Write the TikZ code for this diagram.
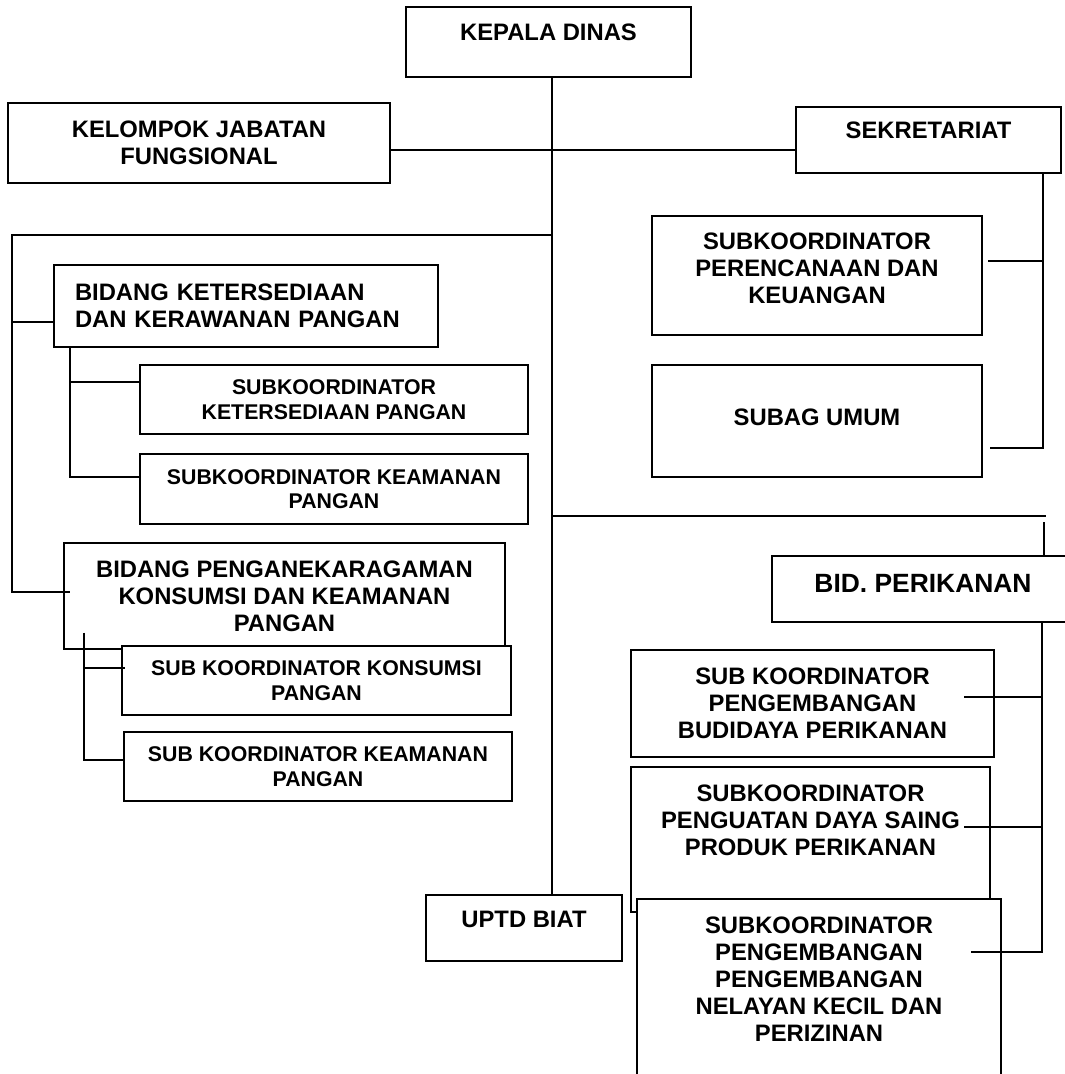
\documentclass[tikz,border=0pt]{standalone}
\usepackage{fontspec}
\setmainfont{Liberation Sans}

\begin{document}
\begin{tikzpicture}[x=1pt, y=-1pt,
    orgbox/.style={draw, line width=1.6pt, fill=white, inner sep=0pt, align=center,
      font=\fontsize{23.8}{27}\selectfont\bfseries},
    subbox/.style={orgbox, font=\fontsize{21.3}{24.5}\selectfont\bfseries},
    link/.style={line width=1.6pt}]
  \fill [white] (0,0) rectangle (1065,1074);
  \useasboundingbox (0,0) rectangle (1065,1074);

  \node (kepala) [orgbox, minimum width=285pt, minimum height=70pt, text depth=20pt] at (548.5,42) {KEPALA DINAS};
  \node (kelompok) [orgbox, minimum width=382pt, minimum height=80pt] at (199,143) {KELOMPOK JABATAN\\FUNGSIONAL};
  \node (sekretariat) [orgbox, minimum width=265pt, minimum height=66pt, text depth=20pt] at (928.5,140) {SEKRETARIAT};
  \node (perencanaan) [orgbox, minimum width=330pt, minimum height=119pt, text depth=15pt] at (817,275.5) {SUBKOORDINATOR\\PERENCANAAN DAN\\KEUANGAN};
  \node (subag) [orgbox, minimum width=330pt, minimum height=112pt, text depth=8pt] at (817,421) {SUBAG UMUM};

  \node (bidket) [orgbox, align=left, text width=342pt, inner xsep=21pt, minimum height=82pt] at (246,306) {BIDANG KETERSEDIAAN\\DAN KERAWANAN PANGAN};
  \node (subket) [subbox, minimum width=388pt, minimum height=69pt] at (334,399.5) {SUBKOORDINATOR\\KETERSEDIAAN PANGAN};
  \node (subkeam) [subbox, minimum width=388pt, minimum height=70pt] at (334,489) {SUBKOORDINATOR KEAMANAN\\PANGAN};

  \node (bidpeng) [orgbox, minimum width=441pt, minimum height=106pt] at (284.5,596) {BIDANG PENGANEKARAGAMAN\\KONSUMSI DAN KEAMANAN\\PANGAN};
  \node (subkon) [subbox, minimum width=389pt, minimum height=69pt] at (316.5,680.5) {SUB KOORDINATOR KONSUMSI\\PANGAN};
  \node (subkam) [subbox, minimum width=388pt, minimum height=69pt] at (318,766.5) {SUB KOORDINATOR KEAMANAN\\PANGAN};

  \node (bidikan) [orgbox, font=\fontsize{26.4}{30}\selectfont\bfseries, minimum width=302pt, minimum height=66pt, text depth=12pt] at (923,589) {BID. PERIKANAN};
  \node (budidaya) [orgbox, minimum width=363pt, minimum height=107pt] at (812.5,703.5) {SUB KOORDINATOR\\PENGEMBANGAN\\BUDIDAYA PERIKANAN};
  \node (penguatan) [orgbox, minimum width=359pt, minimum height=145pt, text depth=39pt] at (810.5,839.5) {SUBKOORDINATOR\\PENGUATAN DAYA SAING\\PRODUK PERIKANAN};
  \node (nelayan) [orgbox, minimum width=364pt, minimum height=201pt, text depth=41pt] at (819,999.5) {SUBKOORDINATOR\\PENGEMBANGAN\\PENGEMBANGAN\\NELAYAN KECIL DAN\\PERIZINAN};

  \node (uptd) [orgbox, minimum width=196pt, minimum height=66pt, text depth=18pt] at (524,928) {UPTD BIAT};

  \coordinate (spine) at ([xshift=3.5pt]kepala.south);
  \coordinate (busjf) at (552,150);
  \coordinate (busL) at (12,235);
  \coordinate (busR) at (1046,516);
  \coordinate (ketin) at ([yshift=-16pt]bidket.west);
  \coordinate (ketbus) at ([xshift=17pt]bidket.south west);
  \coordinate (pengbus) at ([xshift=21pt, yshift=17pt]bidpeng.south west);
  \coordinate (sekbus) at ([xshift=-19pt]sekretariat.south east);
  \coordinate (ikanin) at (1044,522);
  \coordinate (ikanbus) at ([xshift=-33pt]bidikan.south east);

  \draw [link] (spine) -- (spine |- uptd.north);
  \draw [link] (kelompok.east |- busjf) -- (sekretariat.west |- busjf);

  \draw [link] (spine |- busL) -- (busL) |- ([xshift=7pt, yshift=4pt]bidpeng.west);
  \draw [link] (busL |- ketin) -- (ketin);
  \draw [link] (ketbus) |- ([yshift=17.5pt]subket.west);
  \draw [link] (ketbus) |- ([yshift=12pt]subkeam.west);
  \draw [link] (pengbus) |- ([xshift=4pt, yshift=12.5pt]subkon.west);
  \draw [link] (pengbus) |- ([xshift=2pt, yshift=6.5pt]subkam.west);

  \draw [link] (sekbus) |- ([xshift=5pt, yshift=14.5pt]perencanaan.east);
  \draw [link] (sekbus) |- ([xshift=7pt, yshift=-27pt]subag.east);

  \draw [link] (spine |- busR) -- (busR);
  \draw [link] (ikanin) -- (ikanin |- bidikan.north);
  \draw [link] (ikanbus) |- ([xshift=-30.5pt, yshift=6.5pt]budidaya.east);
  \draw [link] (ikanbus) |- ([xshift=-27pt, yshift=12.5pt]penguatan.east);
  \draw [link] (ikanbus) |- ([xshift=-31pt, yshift=47.5pt]nelayan.east);
\end{tikzpicture}
\end{document}
